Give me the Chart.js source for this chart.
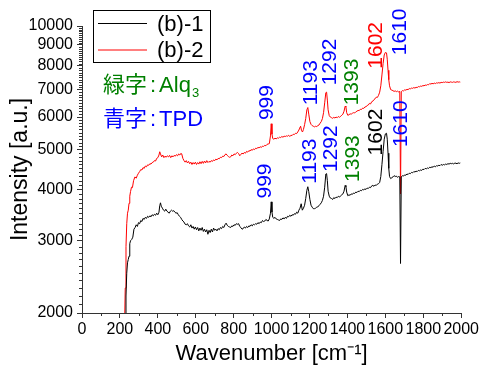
<!DOCTYPE html>
<html>
<head>
<meta charset="utf-8">
<script src="https://cdn.jsdelivr.net/npm/chart.js"></script>
<style>
  html, body { margin: 0; padding: 0; background: #fff; }
  #wrap { width: 481px; height: 369px; }
</style>
</head>
<body>
<div id="wrap"><canvas id="myChart" width="481" height="369"></canvas></div>
<script>
const FONT = "'Liberation Sans', 'Noto Sans CJK JP', sans-serif";

// (b)-1  black
const waveB = [228,232,236,240,244,248,252,256,262,268,274,280,286,292,298,304,310,316,322,328,334,340,346,352,358,364,370,376,382,388,394,400,406,410,414,418,424,430,436,442,448,454,460,466,472,478,484,490,496,502,508,514,520,526,532,538,544,550,556,562,568,574,580,586,592,598,604,610,616,622,628,634,640,646,652,658,664,670,676,682,688,694,700,706,712,718,724,730,736,742,748,754,760,766,772,778,784,790,796,802,808,814,820,826,832,838,844,850,856,862,868,874,880,886,892,898,904,910,916,922,928,934,940,946,952,958,964,970,976,982,988,994,998,1002,1006,1012,1018,1024,1030,1036,1042,1048,1054,1060,1066,1072,1078,1084,1090,1096,1102,1108,1114,1120,1126,1132,1138,1144,1150,1156,1162,1168,1174,1180,1186,1191,1196,1202,1208,1214,1220,1226,1232,1238,1244,1250,1256,1262,1268,1274,1280,1286,1290,1294,1298,1304,1310,1316,1322,1328,1334,1340,1346,1352,1358,1364,1370,1376,1382,1388,1392,1396,1402,1408,1414,1420,1426,1432,1438,1444,1450,1456,1462,1468,1474,1480,1486,1492,1498,1504,1510,1516,1522,1528,1534,1540,1546,1552,1558,1564,1570,1576,1582,1588,1594,1600,1606,1610,1614,1618,1622,1628,1634,1640,1646,1652,1658,1664,1670,1676,1680,1684,1690,1696,1702,1708,1714,1720,1726,1732,1738,1744,1750,1756,1762,1768,1774,1780,1786,1792,1798,1804,1810,1816,1822,1828,1834,1840,1846,1852,1858,1864,1870,1876,1882,1888,1894,1900,1906,1912,1918,1924,1930,1936,1942,1948,1954,1960,1966,1972,1978,1984,1990,1995];
const intB = [1800,2200,2500,2650,2700,2750,2950,3000,3020,3060,3200,3230,3280,3250,3320,3300,3360,3340,3400,3380,3420,3400,3440,3420,3450,3430,3470,3450,3480,3460,3500,3470,3520,3650,3710,3640,3600,3560,3540,3580,3540,3520,3500,3540,3560,3540,3550,3520,3500,3510,3470,3440,3420,3380,3350,3330,3290,3280,3300,3260,3240,3280,3220,3250,3200,3240,3190,3230,3170,3220,3180,3230,3160,3200,3150,3190,3110,3180,3140,3200,3150,3220,3180,3200,3170,3210,3190,3230,3210,3250,3230,3280,3310,3270,3250,3240,3230,3260,3250,3280,3270,3300,3290,3300,3250,3230,3200,3210,3240,3220,3250,3230,3260,3250,3280,3260,3290,3280,3300,3290,3320,3300,3330,3320,3360,3340,3350,3380,3360,3350,3390,3500,3730,3520,3420,3400,3420,3390,3380,3370,3360,3390,3380,3410,3390,3420,3400,3440,3430,3460,3440,3470,3460,3490,3480,3520,3500,3560,3600,3690,3560,3600,3660,3800,3980,4060,3950,3780,3660,3620,3590,3590,3600,3620,3630,3650,3680,3710,3760,3850,4050,4360,4370,4200,3960,3850,3810,3800,3780,3820,3800,3830,3820,3850,3830,3860,3880,3900,3960,4090,4060,3940,3860,3880,3870,3900,3890,3920,3910,3940,3930,3960,3950,3980,3970,4000,3990,4010,4000,4030,4020,4050,4040,4080,4090,4070,4100,4090,4120,4130,4160,4300,4600,4950,5300,5460,5480,5300,4900,4500,4300,4250,4270,4290,4320,4300,4310,4280,4300,4290,2640,4290,4320,4310,4340,4330,4360,4350,4380,4370,4400,4390,4420,4410,4430,4420,4450,4440,4460,4450,4480,4470,4500,4490,4510,4500,4530,4520,4540,4530,4560,4540,4570,4560,4580,4570,4600,4580,4600,4590,4610,4600,4620,4610,4630,4620,4630,4610,4640,4630,4620,4640,4630,4640];

// (b)-2  red
const waveR = [224,228,232,236,240,244,248,252,256,261,266,272,279,286,292,298,304,310,316,322,328,334,340,346,352,358,364,370,376,382,388,394,400,406,410,414,420,426,432,438,444,450,456,462,468,474,480,486,492,498,504,510,516,522,526,532,538,544,550,556,562,568,574,580,586,592,598,604,610,616,622,628,634,640,646,652,658,664,670,676,682,688,694,700,706,712,718,724,730,736,742,748,754,760,766,772,778,784,790,796,802,808,814,820,826,832,838,844,850,856,862,868,874,880,886,892,898,904,910,916,922,928,934,940,946,952,958,964,970,976,982,988,994,998,1002,1006,1012,1018,1024,1030,1036,1042,1048,1054,1060,1066,1072,1078,1084,1090,1096,1102,1108,1114,1120,1126,1132,1138,1144,1148,1153,1158,1163,1168,1174,1180,1186,1191,1196,1202,1208,1214,1220,1226,1232,1238,1244,1250,1256,1262,1268,1274,1280,1286,1290,1294,1298,1304,1310,1316,1322,1328,1334,1340,1346,1352,1358,1364,1370,1376,1382,1388,1392,1396,1402,1408,1414,1420,1426,1432,1438,1444,1450,1456,1462,1468,1474,1480,1486,1492,1498,1504,1510,1516,1522,1528,1534,1540,1546,1552,1558,1564,1570,1576,1582,1588,1594,1600,1606,1610,1614,1618,1622,1628,1634,1640,1646,1652,1658,1664,1670,1676,1680,1684,1690,1696,1702,1708,1714,1720,1726,1732,1738,1744,1750,1756,1762,1768,1774,1780,1786,1792,1798,1804,1810,1816,1822,1828,1834,1840,1846,1852,1858,1864,1870,1876,1882,1888,1894,1900,1906,1912,1918,1924,1930,1936,1942,1948,1954,1960,1966,1972,1978,1984,1990,1995];
const intR = [1800,2300,2900,3300,3500,3560,3700,3850,3950,4050,4040,4200,4290,4260,4330,4380,4420,4470,4460,4520,4500,4560,4540,4590,4580,4620,4610,4650,4660,4700,4690,4760,4780,4850,4940,4880,4800,4850,4780,4820,4790,4830,4800,4840,4780,4830,4800,4840,4820,4860,4830,4880,4850,4900,4880,4760,4700,4660,4700,4640,4680,4620,4660,4600,4650,4610,4660,4600,4650,4610,4670,4620,4680,4630,4690,4640,4700,4650,4680,4660,4700,4680,4720,4700,4740,4720,4760,4750,4790,4780,4820,4810,4860,4880,4840,4810,4790,4800,4850,4830,4880,4860,4900,4920,4890,4830,4870,4900,4880,4920,4900,4950,4930,4970,4960,5000,4980,5020,5000,5040,5030,5060,5050,5080,5060,5100,5090,5120,5110,5150,5160,5170,5400,5780,5450,5320,5300,5330,5310,5340,5330,5360,5350,5380,5360,5390,5380,5400,5390,5420,5380,5420,5410,5450,5440,5480,5470,5520,5580,5640,5700,5560,5520,5600,5750,5950,6250,6330,6100,5850,5760,5720,5700,5680,5700,5690,5720,5740,5800,5850,5950,6150,6500,6880,6900,6600,6250,6050,6000,5980,5960,5990,5970,6000,5980,6020,5990,6030,6060,6100,6200,6380,6350,6150,6060,6080,6110,6100,6130,6150,6140,6180,6200,6230,6220,6270,6260,6310,6300,6350,6360,6400,6420,6480,6460,6540,6560,6620,6650,6710,6700,6780,6900,7150,7600,8100,8500,8620,8600,8300,7800,7400,7150,7000,6980,6960,6930,6950,6920,6940,6910,6930,3900,6920,6960,6950,6990,6980,7010,7000,7040,7030,7060,7050,7080,7060,7090,7080,7120,7110,7140,7130,7160,7150,7180,7170,7200,7190,7240,7220,7250,7230,7260,7240,7270,7260,7280,7260,7290,7280,7300,7290,7310,7290,7300,7280,7310,7300,7290,7310,7300,7290,7320,7300,7310,7300];

// peak labels: text, wavenumber of label centre, intensity at label bottom, colour
const peakText  = ['999','1193','1292','1393','1602','1610', '999','1193','1292','1393','1602','1610'];
const peakWave  = [967, 1200, 1298, 1415, 1540, 1668,  955, 1195, 1305, 1419, 1542, 1674];
const peakBase  = [5900, 6410, 7170, 6410, 7870, 8490,  3800, 4130, 4410, 4170, 4840, 5070];
const peakColor = ['#0000ff','#0000ff','#0000ff','#008000','#ff0000','#0000ff',
                   '#0000ff','#0000ff','#0000ff','#008000','#000000','#0000ff'];

const yMajor = [2000,3000,4000,5000,6000,7000,8000,9000,10000];
const xMajor = [0,200,400,600,800,1000,1200,1400,1600,1800,2000];

function pts(xs, ys) { return xs.map((x, i) => ({x: x, y: ys[i]})); }

function note(ctx, parts, x, y, color) {
  // parts: [text, size, dx, dy]
  ctx.fillStyle = color;
  let cx = x;
  parts.forEach(p => {
    ctx.font = p[1] + 'px ' + FONT;
    cx += p[2];
    ctx.fillText(p[0], cx, y + p[3]);
    cx += ctx.measureText(p[0]).width;
  });
}

const extras = {
  id: 'extras',
  afterDraw(chart) {
    const ctx = chart.ctx;
    const xs = chart.scales.x, ys = chart.scales.y;
    ctx.save();
    // minor ticks
    ctx.strokeStyle = '#333';
    ctx.lineWidth = 1;
    ctx.beginPath();
    for (let v = 2100; v < 10000; v += 100) {
      if (v % 1000 === 0) continue;
      const p = Math.round(ys.getPixelForValue(v)) + 0.5;
      ctx.moveTo(xs.left - 3, p); ctx.lineTo(xs.left, p);
    }
    for (let v = 100; v < 2000; v += 200) {
      const p = Math.round(xs.getPixelForValue(v)) + 0.5;
      ctx.moveTo(p, ys.bottom); ctx.lineTo(p, ys.bottom + 3);
    }
    ctx.stroke();

    // rotated peak labels
    const fs = 21;
    ctx.font = fs + 'px ' + FONT;
    ctx.textAlign = 'left';
    ctx.textBaseline = 'alphabetic';
    peakText.forEach((t, i) => {
      const px = xs.getPixelForValue(peakWave[i]);
      const py = ys.getPixelForValue(peakBase[i]);
      ctx.save();
      ctx.translate(px + fs * 0.36, py);
      ctx.rotate(-Math.PI / 2);
      ctx.fillStyle = peakColor[i];
      ctx.fillText(t, 0, 0);
      ctx.restore();
    });

    // legend box
    ctx.fillStyle = '#fff';
    ctx.fillRect(93, 10, 117, 52);
    ctx.strokeStyle = '#000';
    ctx.strokeRect(93.5, 10.5, 117, 52);
    ctx.font = '22px ' + FONT;
    ctx.textBaseline = 'middle';
    chart.data.datasets.forEach((ds, i) => {
      const y = 23.5 + i * 26.5;
      ctx.strokeStyle = ds.borderColor;
      ctx.beginPath(); ctx.moveTo(98, y); ctx.lineTo(147, y); ctx.stroke();
      ctx.fillStyle = '#000';
      ctx.fillText(ds.label, 157, y + 1);
    });

    // material notes
    ctx.textBaseline = 'alphabetic';
    note(ctx, [['緑字', 22, 0, 0], [':', 22, 3, 0], ['Alq', 22, 3, 0], ['3', 13, 1, 5]], 103, 92, '#008000');
    note(ctx, [['青字', 22, 0, 0], [':', 22, 3, 0], ['TPD', 22, 3, 0]], 103, 126, '#0000ff');
    ctx.restore();
  }
};

const ctx = document.querySelector('#myChart');
new Chart(ctx, {
  type: 'line',
  data: {
    datasets: [
      { label: '(b)-1', data: pts(waveB, intB), borderColor: '#000000', borderWidth: 1, pointRadius: 0, tension: 0 },
      { label: '(b)-2', data: pts(waveR, intR), borderColor: '#ff0000', borderWidth: 1, pointRadius: 0, tension: 0 }
    ]
  },
  options: {
    responsive: false,
    animation: false,
    events: [],
    layout: { padding: { top: 26, right: 19, left: 0, bottom: 0 } },
    plugins: { legend: { display: false }, tooltip: { enabled: false } },
    scales: {
      x: {
        type: 'linear', min: 0, max: 2000,
        afterBuildTicks: s => { s.ticks = xMajor.map(v => ({value: v})); },
        afterFit: s => { s.height = 56; },
        grid: { drawOnChartArea: false, tickLength: 5, color: '#333' },
        border: { color: '#333', width: 1 },
        ticks: { autoSkip: false, maxRotation: 0, padding: 2, color: '#000', font: { family: FONT, size: 16 }, callback: v => String(v) },
        title: { display: true, text: 'Wavenumber [cm⁻¹]', color: '#000', padding: { top: 0, bottom: 2 }, font: { family: FONT, size: 22 } }
      },
      y: {
        type: 'logarithmic', min: 2000, max: 10000,
        afterBuildTicks: s => { s.ticks = yMajor.map(v => ({value: v})); },
        afterFit: s => { s.width = 82; },
        grid: { drawOnChartArea: false, tickLength: 5, color: '#333' },
        border: { color: '#333', width: 1 },
        ticks: { autoSkip: false, padding: 4, color: '#000', font: { family: FONT, size: 16 }, callback: v => String(v) },
        title: { display: true, text: 'Intensity [a.u.]', color: '#000', padding: { top: 7, bottom: 0 }, font: { family: FONT, size: 23 } }
      }
    }
  },
  plugins: [extras]
});
</script>
</body>
</html>
